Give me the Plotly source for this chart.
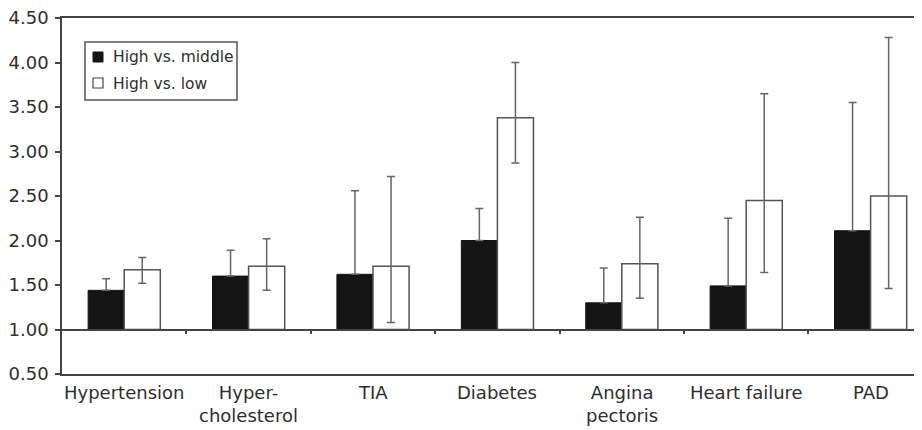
import plotly.graph_objects as go

categories = ["Hypertension", "Hyper-<br>cholesterol", "TIA", "Diabetes",
              "Angina<br>pectoris", "Heart failure", "PAD"]

series_names = ["High vs. middle", "High vs. low"]

# High vs. middle (black bars)
mid_val = [1.44, 1.60, 1.62, 2.00, 1.30, 1.49, 2.11]
mid_upper = [1.57, 1.89, 2.56, 2.36, 1.69, 2.25, 3.55]

# High vs. low (white bars)
low_val = [1.67, 1.71, 1.71, 3.38, 1.74, 2.45, 2.50]
low_upper = [1.81, 2.02, 2.72, 4.00, 2.26, 3.65, 4.28]
low_lower = [1.52, 1.44, 1.08, 2.87, 1.35, 1.64, 1.46]

y_ticks = [0.5, 1.0, 1.5, 2.0, 2.5, 3.0, 3.5, 4.0, 4.5]
BASE = 1.0

FONT = "DejaVu Sans, Verdana, sans-serif"
AX = "#444444"
ERR = "#666666"
TXT = "#2e2e2e"

# page has an 8px body margin; size the figure so the plot lands where the reference has it
OFF = 8
W, H = 922 - OFF, 430 - OFF
ML, MR, MT = 62 - OFF, 0, 18 - OFF
PH = 356
MB = H - MT - PH
PW = W - ML - MR


def px_x(p):
    # page pixel x -> paper fraction
    return (p - OFF - ML) / PW


def px_y(p):
    # page pixel y -> paper fraction
    return (OFF + MT + PH - p) / PH


fig = go.Figure()
fig.add_trace(go.Bar(
    name=series_names[0], x=categories, y=[v - BASE for v in mid_val], base=BASE,
    marker=dict(color="#141414", line=dict(color="#141414", width=1)),
    error_y=dict(type="data", symmetric=False,
                 array=[u - v for u, v in zip(mid_upper, mid_val)],
                 arrayminus=[0] * len(mid_val),
                 color=ERR, thickness=1.5, width=4),
    hoverinfo="skip", showlegend=False,
))
fig.add_trace(go.Bar(
    name=series_names[1], x=categories, y=[v - BASE for v in low_val], base=BASE,
    marker=dict(color="white", line=dict(color="#555555", width=1.5)),
    error_y=dict(type="data", symmetric=False,
                 array=[u - v for u, v in zip(low_upper, low_val)],
                 arrayminus=[v - l for v, l in zip(low_val, low_lower)],
                 color=ERR, thickness=1.5, width=4),
    hoverinfo="skip", showlegend=False,
))
# invisible helper trace for the baseline axis at 1.00
fig.add_trace(go.Scatter(x=[0], y=[BASE], xaxis="x2", mode="markers",
                         marker=dict(opacity=0), showlegend=False, hoverinfo="skip"))

n = len(categories)
xr = [-0.5, -0.5 + PW / 124.4]

# category labels below the bottom axis
annotations = []
for c in categories:
    annotations.append(dict(x=c, xref="x", y=px_y(380), yref="paper",
                            text=c, showarrow=False, xanchor="center", yanchor="top",
                            font=dict(family=FONT, size=18, color=TXT)))

# manual legend (box, swatches, labels)
shapes = [
    dict(type="rect", xref="paper", yref="paper",
         x0=px_x(85), x1=px_x(237), y0=px_y(100), y1=px_y(42),
         line=dict(color="#555555", width=1.5), fillcolor="white", layer="above"),
    dict(type="rect", xref="paper", yref="paper",
         x0=px_x(93), x1=px_x(103), y0=px_y(62), y1=px_y(52),
         line=dict(color="#141414", width=1), fillcolor="#141414", layer="above"),
    dict(type="rect", xref="paper", yref="paper",
         x0=px_x(93), x1=px_x(103), y0=px_y(88), y1=px_y(78),
         line=dict(color="#444444", width=1.2), fillcolor="white", layer="above"),
]
for name, cy in zip(series_names, [57, 84]):
    annotations.append(dict(x=px_x(111), xref="paper", y=px_y(cy), yref="paper",
                            text=name, showarrow=False, xanchor="left", yanchor="middle",
                            font=dict(family=FONT, size=15.5, color=TXT)))

fig.update_layout(
    width=W, height=H,
    margin=dict(l=ML, r=MR, t=MT, b=MB, autoexpand=False),
    paper_bgcolor="white", plot_bgcolor="white",
    font=dict(family=FONT, size=18, color=TXT),
    barmode="group", bargap=0.42, bargroupgap=0,
    showlegend=False,
    xaxis=dict(type="category", range=xr, showline=True, linecolor=AX, linewidth=1.5,
               mirror=True, ticks="", showticklabels=False, showgrid=False,
               zeroline=False, automargin=False),
    xaxis2=dict(overlaying="x", anchor="free", position=(BASE - 0.5) / 4.0,
                range=xr, showline=True, linecolor=AX, linewidth=1.5,
                ticks="outside", ticklen=4, tickcolor=AX, tickwidth=1.5,
                tickvals=[i + 0.5 for i in range(n - 1)], showticklabels=False,
                showgrid=False, zeroline=False, automargin=False),
    yaxis=dict(range=[0.5, 4.5], tickvals=y_ticks, tickformat=".2f",
               showline=True, linecolor=AX, linewidth=1.5, ticks="outside",
               ticklen=5, tickcolor=AX, tickwidth=1.5, showgrid=False, zeroline=False,
               tickfont=dict(family=FONT, size=18, color=TXT),
               ticklabelstandoff=3, ticklabeloverflow="allow", automargin=False),
    annotations=annotations,
    shapes=shapes,
)

fig.write_html("out.html")
